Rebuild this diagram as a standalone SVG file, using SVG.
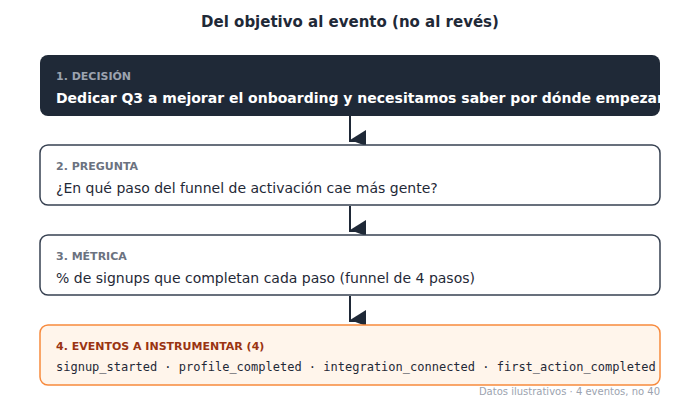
<svg xmlns="http://www.w3.org/2000/svg" width="700" height="400" viewBox="0 0 700 400">
<style>
.title{font-family:"DejaVu Sans",sans-serif;font-weight:bold;font-size:15px;fill:#1f2937}
.lbl{font-family:"DejaVu Sans",sans-serif;font-weight:bold;font-size:11px;fill:#6b7280}
.txt{font-family:"DejaVu Sans",sans-serif;font-size:14px;fill:#1f2937}
.mono{font-family:"DejaVu Sans Mono",monospace;font-size:12px;fill:#1f2937}
.box{fill:#ffffff;stroke:#374151;stroke-width:1.5}
.conn{stroke:#1f2937;stroke-width:2;fill:none}
.head{fill:#1f2937}
.note{font-family:"DejaVu Sans",sans-serif;font-size:10px;fill:#9ca3af}
</style>
<defs>
<clipPath id="c1"><rect x="40" y="55" width="620" height="61" rx="8"/></clipPath>
<g id="arrow"><path class="conn" d="M0,0 V25 H5"/><polygon class="head" points="0,24 16,14 16,30"/></g>
</defs>
<text class="title" x="350" y="27" text-anchor="middle">Del objetivo al evento (no al revés)</text>
<g id="connectors">
<use href="#arrow" x="350" y="116"/>
<use href="#arrow" x="350" y="206"/>
<use href="#arrow" x="350" y="296"/>
</g>
<g id="n1">
<rect x="40" y="55" width="620" height="61" rx="8" fill="#1f2937"/>
<text class="lbl" x="56" y="80" style="fill:#9ca3af">1. DECISIÓN</text>
<text class="txt" x="56" y="103" clip-path="url(#c1)" style="fill:#ffffff;font-weight:bold">Dedicar Q3 a mejorar el onboarding y necesitamos saber por dónde empezar</text>
</g>
<g id="n2">
<rect class="box" x="40" y="145" width="620" height="60" rx="8"/>
<text class="lbl" x="56" y="170">2. PREGUNTA</text>
<text class="txt" x="56" y="193">¿En qué paso del funnel de activación cae más gente?</text>
</g>
<g id="n3">
<rect class="box" x="40" y="235" width="620" height="60" rx="8"/>
<text class="lbl" x="56" y="260">3. MÉTRICA</text>
<text class="txt" x="56" y="283">% de signups que completan cada paso (funnel de 4 pasos)</text>
</g>
<g id="n4">
<rect x="40" y="325" width="620" height="60" rx="8" fill="#fff5eb" stroke="#f78a3d" stroke-width="1.5"/>
<text class="lbl" x="56" y="350" style="fill:#9a3412">4. EVENTOS A INSTRUMENTAR (4)</text>
<text class="mono" x="56" y="371">signup_started · profile_completed · integration_connected · first_action_completed</text>
</g>
<text class="note" x="660" y="395" text-anchor="end">Datos ilustrativos · 4 eventos, no 40</text>
</svg>
